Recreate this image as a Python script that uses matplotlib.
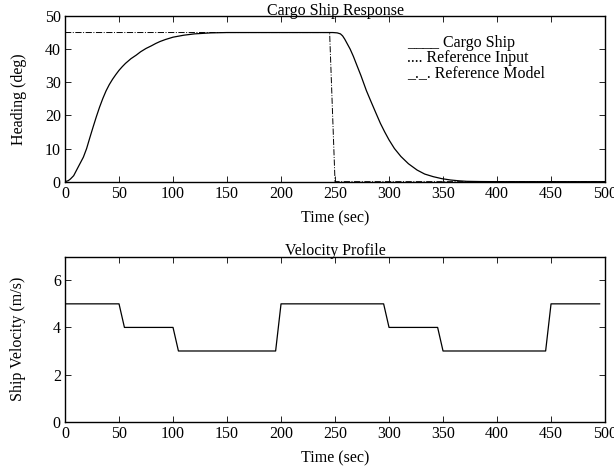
import matplotlib
matplotlib.use("Agg")
import matplotlib.pyplot as plt
import numpy as np

# heading response of the cargo ship
t_ship = [0, 3, 5, 8, 12, 17, 20, 23, 26, 29, 32, 35, 38, 41, 44, 47, 50, 53, 56, 61, 66, 70, 75, 80,
          84, 88, 93, 100, 110, 120, 135, 150,
          248, 252, 255, 257, 259, 261, 264, 267, 270, 274, 279, 283, 288, 292, 296, 300, 305, 311,
          318, 326, 333, 341, 349, 357, 365, 372, 385, 400, 500]
h_ship = [0, 0.3, 0.8, 1.8, 4.3, 7.4, 10, 13.3, 16.5, 19.6, 22.5, 25.1, 27.4, 29.3, 30.9, 32.3, 33.6, 34.7, 35.7, 37.1, 38.2, 39.2, 40.2, 41,
          41.7, 42.3, 42.9, 43.6, 44.2, 44.6, 44.9, 45,
          45, 44.9, 44.6, 44, 43, 41.8, 40, 37.8, 35.3, 32, 27.5, 24.4, 20.6, 17.6, 15, 12.6, 10, 7.6,
          5.4, 3.5, 2.3, 1.5, 0.9, 0.5, 0.25, 0.1, 0.03, 0, 0]

# reference model
t_ref = [0, 245, 250, 500]
h_ref = [45, 45, 0, 0]

# velocity profile
t_vel = [0, 50, 55, 100, 105, 195, 200, 295, 300, 345, 350, 445, 450, 495]
v_vel = [5, 5, 4, 4, 3, 3, 5, 5, 4, 4, 3, 3, 5, 5]

plt.rcParams["font.family"] = ["Liberation Serif", "DejaVu Serif"]
plt.rcParams["font.size"] = 11.5

fig = plt.figure(figsize=(6.14, 4.67), dpi=100)
ax1 = fig.add_axes([0.1059, 0.611, 0.8795, 0.3548])
ax2 = fig.add_axes([0.1059, 0.097, 0.8795, 0.3533])

ax1.plot(t_ship, h_ship, "k-", lw=0.9)
ax1.plot(t_ref, h_ref, "k-.", lw=0.7, zorder=1.5)
ax1.set_xlim(0, 500)
ax1.set_ylim(0, 50)
ax1.set_xticks(np.arange(0, 501, 50))
ax1.set_yticks(np.arange(0, 51, 10))
ax1.set_title("Cargo Ship Response", pad=1, fontsize=11.5)
ax1.set_xlabel("Time (sec)", labelpad=6)
ax1.set_ylabel("Heading (deg)", labelpad=13)
ax1.text(317, 37.3, "____ Cargo Ship\n.... Reference Input\n_._. Reference Model",
         va="center", ha="left", linespacing=0.95)

ax2.plot(t_vel, v_vel, "k-", lw=0.9)
ax2.set_xlim(0, 500)
ax2.set_ylim(0, 7)
ax2.set_xticks(np.arange(0, 501, 50))
ax2.set_yticks([0, 2, 4, 6])
ax2.set_title("Velocity Profile", pad=1, fontsize=11.5)
ax2.set_xlabel("Time (sec)", labelpad=6)
ax2.set_ylabel("Ship Velocity (m/s)", labelpad=19)

for ax in (ax1, ax2):
    ax.tick_params(direction="in", top=True, right=True, length=4, width=0.6, pad=3)
    for s in ax.spines.values():
        s.set_linewidth(1.0)

fig.savefig("out.png", dpi=100)
